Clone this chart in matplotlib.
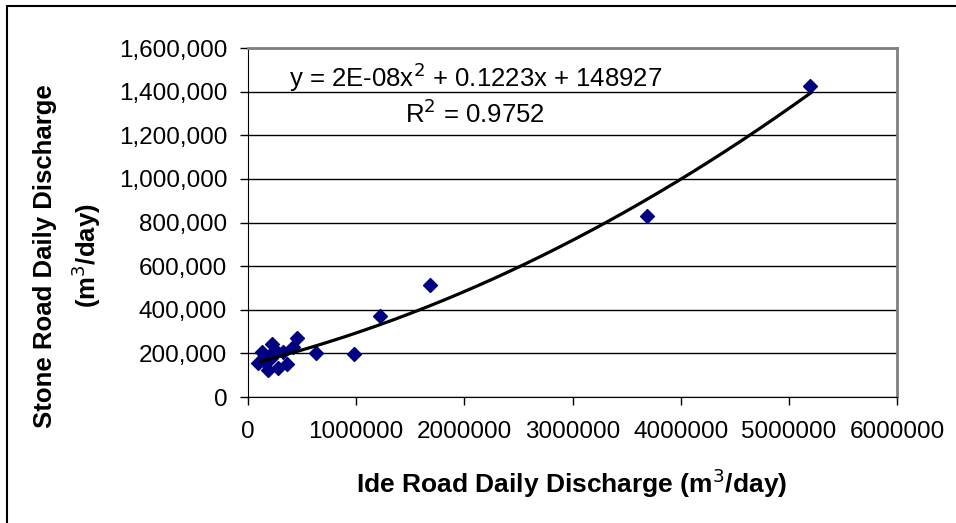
import numpy as np
import matplotlib.pyplot as plt
from matplotlib.patches import Rectangle
from matplotlib.ticker import FuncFormatter

plt.rcParams['font.family'] = ['Liberation Sans', 'DejaVu Sans']

# daily discharge readings (m3/day)
ide_road = [5200000, 3690000, 1680000, 1220000, 980000, 630000, 455000,
            420000, 360000, 320000, 280000, 250000, 220000, 215000,
            185000, 140000, 130000, 95000]
stone_road = [1425000, 830000, 515000, 370000, 195000, 203000, 270000,
              228000, 150000, 205000, 135000, 215000, 245000, 180000,
              125000, 168000, 205000, 158000]

trend_coef = [2.25e-8, 0.1223, 148927]

x_ticks = [0, 1000000, 2000000, 3000000, 4000000, 5000000, 6000000]
y_ticks = [0, 200000, 400000, 600000, 800000, 1000000, 1200000, 1400000, 1600000]

W, H = 956, 523
fig = plt.figure(figsize=(W / 100, H / 100), dpi=100)
ax = fig.add_axes([248/W, 1 - 397/H, (897 - 248)/W, (397 - 48)/H])

# outer chart border (runs off the right/bottom of the image)
fig.patches.append(Rectangle((7/W, -0.2), 1.2, 1 - 6/H + 0.2,
                             transform=fig.transFigure, fill=False,
                             edgecolor='black', linewidth=1.5))

ax.scatter(ide_road, stone_road, marker='D', s=50, color='#000080', zorder=3)

xs = np.linspace(120000, max(ide_road), 200)
ax.plot(xs, np.polyval(trend_coef, xs), color='black', lw=2.3, zorder=4)

ax.set_xlim(0, 6000000)
ax.set_ylim(0, 1600000)
ax.set_xticks(x_ticks)
ax.set_yticks(y_ticks)
ax.xaxis.set_major_formatter(FuncFormatter(lambda v, p: '%d' % v))
ax.yaxis.set_major_formatter(FuncFormatter(lambda v, p: '{:,}'.format(int(v))))
ax.tick_params(labelsize=17.5, length=6, width=1, color='black')
ax.tick_params(axis='x', pad=11)
ax.tick_params(axis='y', pad=9)
ax.grid(axis='y', color='black', lw=1)
ax.set_axisbelow(True)

ax.spines['top'].set_color('#808080')
ax.spines['right'].set_color('#808080')
ax.spines['top'].set_linewidth(2)
ax.spines['right'].set_linewidth(2)

fig.text(572/W, 1 - 493/H, 'Ide Road Daily Discharge (m$^3$/day)', fontsize=19,
         fontweight='bold', ha='center', va='baseline')
fig.text(68/W, 1 - 256/H, 'Stone Road Daily Discharge\n(m$^3$/day)', fontsize=18.5,
         fontweight='bold', ha='center', va='center', rotation=90,
         multialignment='center', linespacing=1.45)

fig.text(662/W, 1 - 77/H, 'y = 2E-08x$^2$ + 0.1223x + 148927', fontsize=18.5,
         va='center', ha='right')
fig.text(475/W, 1 - 114/H, 'R$^2$ = 0.9752', fontsize=18.5,
         va='center', ha='center')

fig.savefig('out.png', dpi=100)
